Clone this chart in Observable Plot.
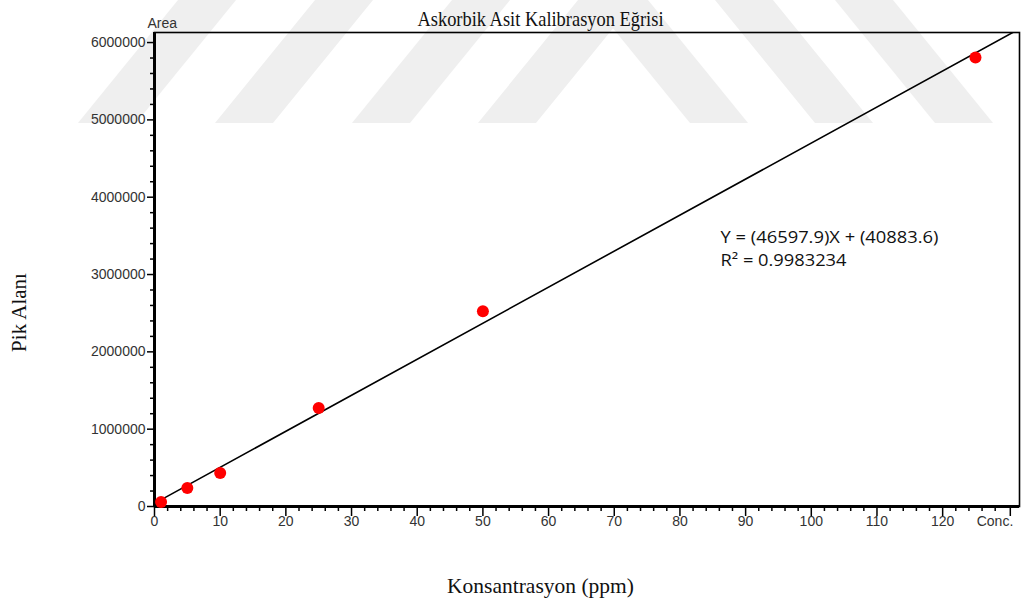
<!DOCTYPE html>
<html><head><meta charset="utf-8">
<script src="https://cdn.jsdelivr.net/npm/d3@7"></script>
<script src="https://cdn.jsdelivr.net/npm/@observablehq/plot@0.6"></script>
<style>
body{margin:0;background:#fff;}
#wrap{position:relative;width:1022px;height:603px;overflow:hidden;}
#wm{position:absolute;left:0;top:0;}
#chart{position:absolute;left:0;top:0;}
#chart svg{background:transparent;}
</style></head><body>
<div id="wrap">
<svg id="wm" width="1022" height="603"></svg>
<div id="chart"></div>
</div>
<script>
// ---- data ----
const concentrations = [1, 5, 10, 25, 50, 125];
const peakAreas = [58000, 239000, 433000, 1273000, 2526000, 5807000];
const slope = 46597.9;
const intercept = 40883.6;
const lineRange = [0, 131.7];
const xTickValues = [0, 10, 20, 30, 40, 50, 60, 70, 80, 90, 100, 110, 120];
const xTickLabels = ["0", "10", "20", "30", "40", "50", "60", "70", "80", "90", "100", "110", "120"];
const xUnitTick = [130.3];
const xUnitText = "Conc.";
const yTickValues = [0, 1000000, 2000000, 3000000, 4000000, 5000000, 6000000];
const yTickLabels = ["0", "1000000", "2000000", "3000000", "4000000", "5000000", "6000000"];
const titleText = "Askorbik Asit Kalibrasyon Eğrisi";
const xLabelText = "Konsantrasyon (ppm)";
const yLabelText = "Pik Alanı";
const yUnitText = "Area";
const equationLines = ["Y = (46597.9)X + (40883.6)", "R² = 0.9983234"];

// watermark bands (decorative background)
const wmUp = [78, 215, 352, 478];
const wmDown = [690, 815, 935];

const xMinor = d3.range(0, 130, 2).filter(d => d % 10 !== 0);
const yMinor = d3.range(0, 6100000, 200000).filter(d => d % 1000000 !== 0);

const points = concentrations.map((c, i) => ({x: c, y: peakAreas[i]}));
const regLine = lineRange.map(x => ({x, y: slope * x + intercept}));

// watermark
const wm = d3.select("#wm");
const bh = 123, sh = 100, bw = 58;
wmUp.forEach(b => wm.append("polygon")
  .attr("points", `${b},${bh} ${b+bw},${bh} ${b+bw+sh},0 ${b+sh},0`)
  .attr("fill", "#efefef"));
wmDown.forEach(b => wm.append("polygon")
  .attr("points", `${b},${bh} ${b+bw},${bh} ${b+bw-sh},0 ${b-sh},0`)
  .attr("fill", "#efefef"));

const tickFont = "Liberation Sans, Arial, sans-serif";
const serif = "Liberation Serif, Times New Roman, serif";

const chart = Plot.plot({
  width: 1022,
  height: 603,
  marginLeft: 154,
  marginRight: 3,
  marginTop: 32,
  marginBottom: 97,
  style: {background: "transparent", overflow: "visible"},
  x: {domain: [0, 131.7]},
  y: {domain: [0, 6130000]},
  marks: [
    Plot.frame({stroke: "#000", strokeWidth: 1.6}),
    Plot.axisY({ticks: yMinor, tickSize: 4, tickFormat: () => "", strokeWidth: 1.5, label: null}),
    Plot.axisY({ticks: yTickValues, tickSize: 7, tickPadding: 2, strokeWidth: 1.5,
      tickFormat: d => yTickLabels[yTickValues.indexOf(d)], fontSize: 14, fontFamily: tickFont,
      fill: "#333", label: null}),
    Plot.axisX({ticks: xMinor, tickSize: 5, tickFormat: () => "", strokeWidth: 1.5, label: null}),
    Plot.axisX({ticks: xTickValues, tickSize: 10, tickPadding: 0, strokeWidth: 1.5,
      tickFormat: d => xTickLabels[xTickValues.indexOf(d)], fontSize: 14, fontFamily: tickFont,
      fill: "#333", label: null}),
    Plot.axisX({ticks: xUnitTick, tickSize: 10, tickFormat: () => "", strokeWidth: 1.5, label: null}),
    Plot.axisX({ticks: xUnitTick, tickSize: 0, tickPadding: 10, dx: 3, textAnchor: "end",
      tickFormat: () => xUnitText, fontSize: 14, fontFamily: tickFont, fill: "#333", label: null}),
    Plot.ruleX([0], {stroke: "#000", strokeWidth: 3}),
    Plot.ruleY([0], {stroke: "#000", strokeWidth: 3}),
    Plot.line(regLine, {x: "x", y: "y", stroke: "#000", strokeWidth: 1.6, clip: true}),
    Plot.dot(points, {x: "x", y: "y", r: 6, fill: "#ff0000", stroke: "none"}),
    Plot.text([yUnitText], {frameAnchor: "top-left", dx: -7, dy: -5, textAnchor: "start", lineAnchor: "bottom",
      fontSize: 14, fontFamily: tickFont, fill: "#333"}),
    Plot.text([titleText], {frameAnchor: "top-left", dx: 263, dy: -7, textAnchor: "start", lineAnchor: "bottom",
      fontSize: 21.5, fontFamily: serif, fill: "#111"}),
    Plot.text([xLabelText], {frameAnchor: "bottom", dx: -46.5, dy: 86, textAnchor: "middle", lineAnchor: "bottom",
      fontSize: 21.5, fontFamily: serif, fill: "#111"}),
    Plot.text([yLabelText], {frameAnchor: "left", dx: -129, dy: 43, rotate: -90, textAnchor: "middle", lineAnchor: "bottom",
      fontSize: 21, fontFamily: serif, fill: "#111"}),
    Plot.text([equationLines[0]], {frameAnchor: "top-left", dx: 566, dy: 210, textAnchor: "start", lineAnchor: "bottom",
      fontSize: 16, fontFamily: "Open Sans, sans-serif", fill: "#111"}),
    Plot.text([equationLines[1]], {frameAnchor: "top-left", dx: 566, dy: 233, textAnchor: "start", lineAnchor: "bottom",
      fontSize: 16, fontFamily: "Open Sans, sans-serif", fill: "#111"})
  ]
});
document.getElementById("chart").appendChild(chart);

// fit text widths to the reference
const fitWidths = new Map([[titleText, 246], [equationLines[0], 218], [equationLines[1], 126]]);
chart.querySelectorAll("text").forEach(t => {
  const w = fitWidths.get(t.textContent);
  if (w) { t.setAttribute("textLength", w); t.setAttribute("lengthAdjust", "spacingAndGlyphs"); }
});
</script>
</body></html>
